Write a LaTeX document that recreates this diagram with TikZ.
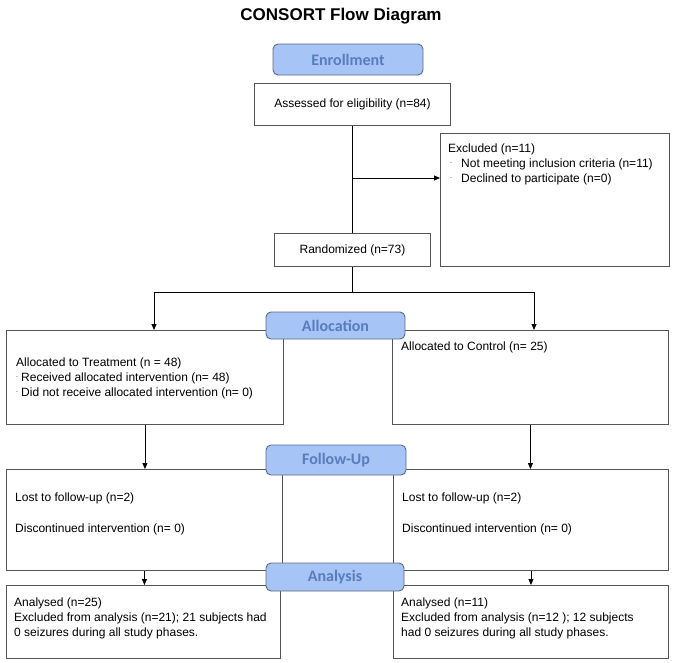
\documentclass[tikz,border=0pt]{standalone}
\usepackage{fontspec}
\setmainfont{Liberation Sans}
\newfontfamily\phasefont{Carlito}
\usetikzlibrary{arrows.meta}
\definecolor{phasefill}{RGB}{166,196,245}
\definecolor{phasetext}{RGB}{88,124,190}
\definecolor{phaseline}{RGB}{95,105,130}
\definecolor{boxline}{RGB}{85,85,85}
\begin{document}
\begin{tikzpicture}[x=1pt,y=-1pt,
  box/.style={draw=boxline, line width=0.9pt, inner sep=0pt, anchor=north west, font=\fontsize{12}{15}\selectfont},
  phase/.style={draw=phaseline, line width=0.9pt, fill=phasefill, rounded corners=5pt, text=phasetext, font=\phasefont\bfseries\fontsize{16}{18}\selectfont, inner sep=0pt},
  txt/.style={anchor=base west, inner sep=0pt, font=\fontsize{12}{15}\selectfont},
  blt/.style={anchor=base west, inner sep=0pt, font=\fontsize{7}{7}\selectfont, text=black!70},
  wire/.style={draw=black, line width=0.8pt},
  conn/.style={draw=black, line width=0.8pt, -{Triangle[length=6pt,width=5pt]}}
]
\useasboundingbox (0,0) rectangle (682,662);
\fill[white] (0,0) rectangle (682,662);

% title
\node[anchor=base, inner sep=0pt, font=\bfseries\fontsize{17}{20}\selectfont] (title) at (341,20) {CONSORT Flow Diagram};

% boxes
\node[box, minimum width=196pt, minimum height=42pt] (assess) at (254,83) {Assessed for eligibility (n=84)};
\node[box, minimum width=229pt, minimum height=133pt] (excl) at (440,133) {};
\node[box, minimum width=156pt, minimum height=33pt] (rand) at (274,233) {Randomized (n=73)};
\node[box, minimum width=277pt, minimum height=94pt] (allocL) at (6,330) {};
\node[box, minimum width=276pt, minimum height=94pt] (allocR) at (392,330) {};
\node[box, minimum width=276pt, minimum height=101pt] (fuL) at (6,469) {};
\node[box, minimum width=275pt, minimum height=101pt] (fuR) at (393,469) {};
\node[box, minimum width=274pt, minimum height=73pt] (anL) at (6,585) {};
\node[box, minimum width=275pt, minimum height=73pt] (anR) at (393,585) {};

% connectors
\draw[wire] (assess.south) -- (assess.south |- rand.north);
\coordinate (exsplit) at (assess.south |- 0,178);
\draw[conn] (exsplit) -- (exsplit -| excl.west);
\coordinate (randfoot) at (rand.south |- 0,292);
\draw[wire] (rand.south) -- (randfoot);
\coordinate (splitL) at (154,292);
\coordinate (splitR) at (534,292);
\draw[wire] (splitL) -- (splitR);
\draw[conn] (splitL) -- (splitL |- allocL.north);
\draw[conn] (splitR) -- (splitR |- allocR.north);
\draw[conn] (allocL.south) -- (allocL.south |- fuL.north);
\draw[conn] (allocR.south) -- (allocR.south |- fuR.north);
\draw[conn] (fuL.south) -- (fuL.south |- anL.north);
\draw[conn] (fuR.south) -- (fuR.south |- anR.north);

% phase labels
\node[phase, minimum width=150pt, minimum height=31pt] (enroll) at (348,59.5) {Enrollment};
\node[phase, minimum width=139pt, minimum height=27pt] (allocP) at (335.5,325.5) {Allocation};
\node[phase, minimum width=140pt, minimum height=30pt] (fuP) at (336,460) {Follow-Up};
\node[phase, minimum width=138pt, minimum height=28pt] (anP) at (335,577) {Analysis};

% excluded text
\node[txt] (exT1) at (448,152.5) {Excluded (n=11)};
\node[blt] (exB2) at (450,167.5) {¨};
\node[txt] (exT2) at (461,167.5) {Not meeting inclusion criteria (n=11)};
\node[blt] (exB3) at (450,182.5) {¨};
\node[txt] (exT3) at (461,182.5) {Declined to participate (n=0)};

% allocation text
\node[txt] (alT1) at (16,366.5) {Allocated to Treatment (n = 48)};
\node[blt] (alB2) at (16,381.5) {¨};
\node[txt] (alT2) at (21,381.5) {Received allocated intervention (n= 48)};
\node[blt] (alB3) at (16,396.5) {¨};
\node[txt] (alT3) at (21,396.5) {Did not receive allocated intervention (n= 0)};
\node[txt] (arT1) at (401,350.5) {Allocated to Control (n= 25)};

% follow-up text
\node[txt] (flT1) at (15,501.5) {Lost to follow-up (n=2)};
\node[txt] (flT2) at (15,532.5) {Discontinued intervention (n= 0)};
\node[txt] (frT1) at (402,501.5) {Lost to follow-up (n=2)};
\node[txt] (frT2) at (402,532.5) {Discontinued intervention (n= 0)};

% analysis text
\node[txt] (nlT1) at (14,606.5) {Analysed (n=25)};
\node[txt] (nlT2) at (14,621.5) {Excluded from analysis (n=21); 21 subjects had};
\node[txt] (nlT3) at (14,636.5) {0 seizures during all study phases.};
\node[txt] (nrT1) at (401,606.5) {Analysed (n=11)};
\node[txt] (nrT2) at (401,621.5) {Excluded from analysis (n=12 ); 12 subjects};
\node[txt] (nrT3) at (401,636.5) {had 0 seizures during all study phases.};
\end{tikzpicture}
\end{document}
